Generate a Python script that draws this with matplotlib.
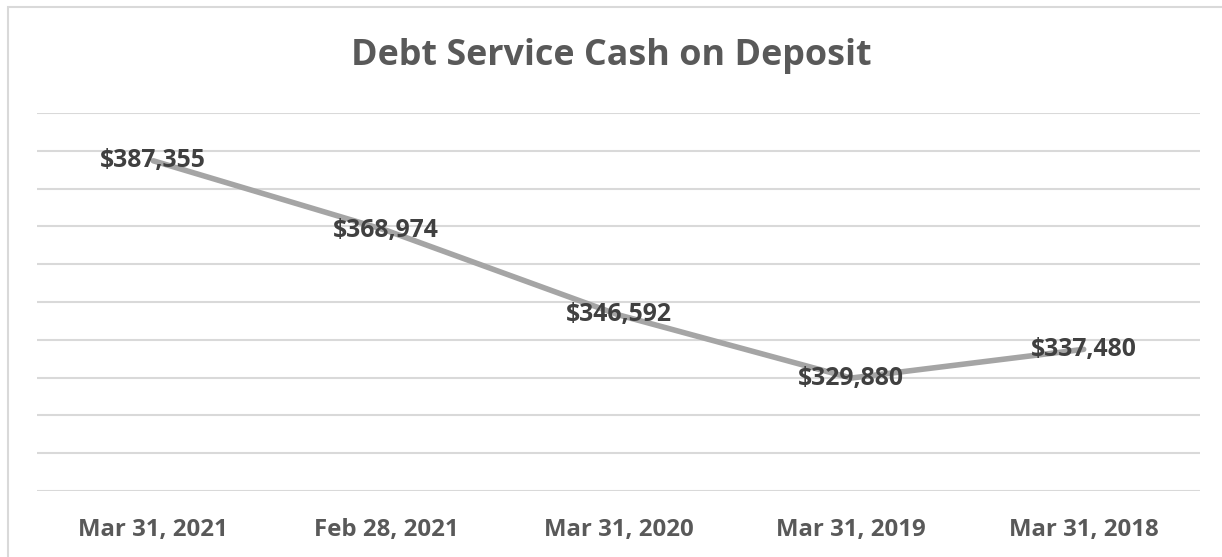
import matplotlib.pyplot as plt
from matplotlib.patches import Rectangle

# values
dates = ['Mar 31, 2021', 'Feb 28, 2021', 'Mar 31, 2020', 'Mar 31, 2019', 'Mar 31, 2018']
cash = [387355, 368974, 346592, 329880, 337480]

plt.rcParams['font.family'] = ['Open Sans', 'DejaVu Sans']

W, H = 1222, 557
fig = plt.figure(figsize=(W / 100, H / 100), dpi=100)
ax = fig.add_axes([37 / W, 1 - 491 / H, 1163 / W, 378 / H])

# outer chart border (light gray, cut off at right/bottom)
fig.patches.append(Rectangle((8 / W, -0.05), 1.1, 1 - 7 / H + 0.05, transform=fig.transFigure,
                             fill=False, edgecolor='#d9d9d9', linewidth=1.5))

x = list(range(len(dates)))
ax.plot(x, cash, color='#a5a5a5', linewidth=4, solid_capstyle='round', zorder=3)

for xi, v in zip(x, cash):
    ax.text(xi, v, f'${v:,}', ha='center', va='center', fontsize=17.8,
            fontweight='bold', color='#404040', zorder=4)

ax.set_xlim(-0.5, len(dates) - 0.5)
ax.set_ylim(300000, 400000)
ax.set_yticks(range(300000, 400001, 10000))
ax.yaxis.grid(True, color='#d9d9d9', linewidth=1.5)
ax.set_axisbelow(True)
ax.tick_params(axis='y', left=False, labelleft=False)
ax.tick_params(axis='x', length=0, pad=19.5)
ax.set_xticks(x)
ax.set_xticklabels(dates, fontsize=17.3, fontweight='bold', color='#595959')
for s in ax.spines.values():
    s.set_visible(False)

fig.text(0.5, 1 - 56 / H, 'Debt Service Cash on Deposit', ha='center', va='center',
         fontsize=25.8, fontweight='bold', color='#595959')

fig.savefig('out.png', dpi=100)
